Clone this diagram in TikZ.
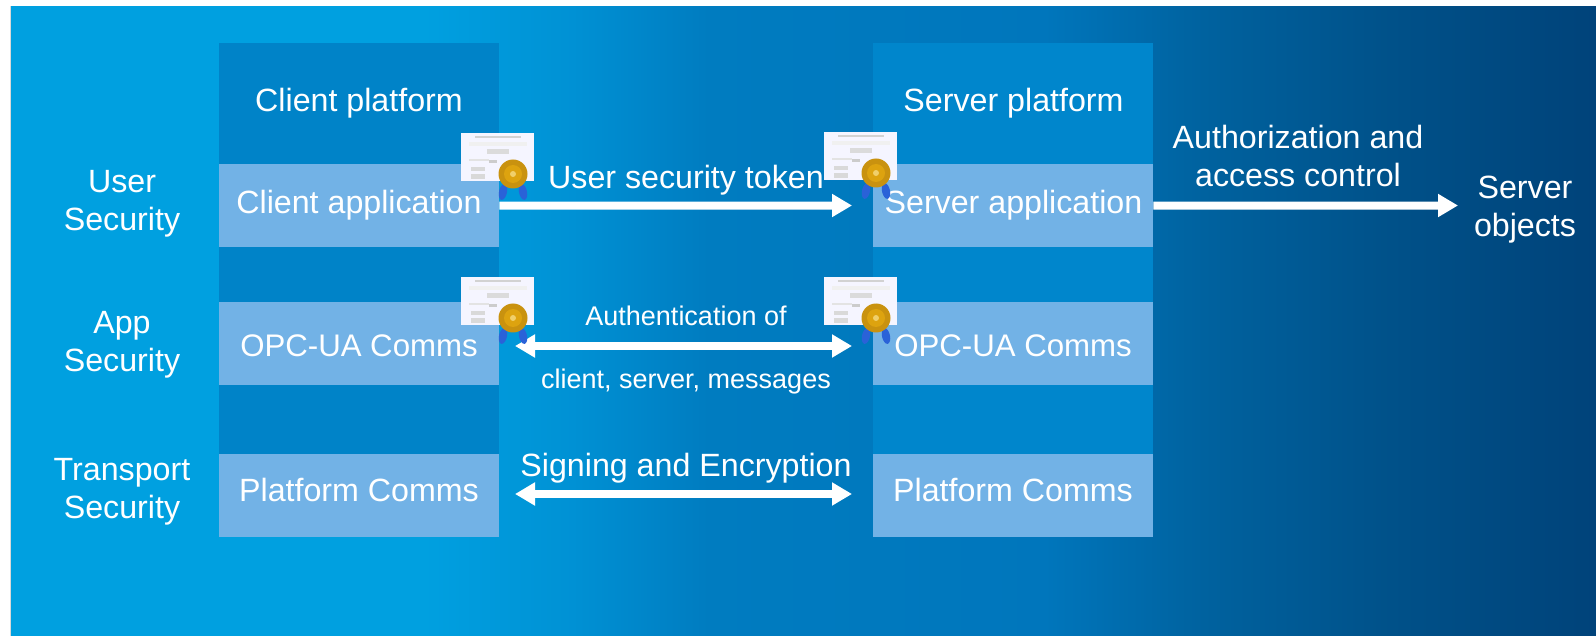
\documentclass[tikz,border=0pt]{standalone}
\usepackage{fontspec}
\setmainfont{Liberation Sans}
\usetikzlibrary{arrows.meta}
\definecolor{bgA}{HTML}{00A0E0}
\definecolor{bgB}{HTML}{0092D5}
\definecolor{bgC}{HTML}{007CC0}
\definecolor{bgD}{HTML}{0076BC}
\definecolor{bgE}{HTML}{00629F}
\definecolor{bgF}{HTML}{005088}
\definecolor{bgG}{HTML}{00437A}
\definecolor{panelL}{HTML}{0083C8}
\definecolor{panelR}{HTML}{0086CC}
\definecolor{boxC}{HTML}{72B2E6}
\definecolor{sealC}{HTML}{C9920F}
\definecolor{sealD}{HTML}{DDA30F}
\definecolor{sealE}{HTML}{F0CF6A}
\definecolor{ribbonC}{HTML}{2A62D8}
\pgfdeclarehorizontalshading{bgshade}{100bp}{color(0bp)=(bgA); color(25bp)=(bgA); color(38bp)=(bgA); color(42.5bp)=(bgB); color(47bp)=(bgC); color(57.6bp)=(bgD); color(62.6bp)=(bgE); color(68.9bp)=(bgF); color(75bp)=(bgG); color(100bp)=(bgG)}
\tikzset{
  appbox/.style={fill=boxC,draw=none,minimum width=280pt,minimum height=83pt,inner sep=0pt},
  boxtext/.style={text=white,inner sep=0pt,font=\fontsize{32.2}{38}\selectfont},
  opctext/.style={text=white,inner sep=0pt,font=\fontsize{31.2}{38}\selectfont},
  lbl/.style={text=white,align=center,inner sep=0pt,font=\fontsize{32.2}{38}\selectfont},
  smalllbl/.style={text=white,align=center,inner sep=0pt,font=\fontsize{27}{32}\selectfont},
  arrowline/.style={draw=white,line width=8pt},
  tipend/.style={-{Triangle[width=22pt,length=20pt]}},
  tipboth/.style={{Triangle[width=22pt,length=20pt]}-{Triangle[width=22pt,length=20pt]}},
}
\newcommand{\certificate}[2]{%
  \begin{scope}[shift={(#1,#2)}]
    \fill[white!96!blue] (0,0) rectangle (73,48);
    \fill[gray!35] (14,3) rectangle (60,5);
    \fill[gray!12] (8,9) rectangle (66,13);
    \fill[gray!28] (26,16) rectangle (48,21);
    \fill[gray!22] (8,26) rectangle (28,28);
    \fill[gray!40] (28,27) rectangle (36,30);
    \fill[gray!30] (10,34) rectangle (24,38);
    \fill[gray!30] (10,41) rectangle (24,46);
    \fill[ribbonC,rotate around={-12:(42,59)}] (42,59) ellipse (4 and 8);
    \fill[ribbonC,rotate around={12:(62,59)}] (62,59) ellipse (4 and 8);
    \fill[sealC] (52,41) circle (14.5);
    \fill[sealD] (52,41) circle (9);
    \fill[sealE] (52,41) circle (3);
  \end{scope}}
\begin{document}
\begin{tikzpicture}[x=1pt,y=-1pt]
\useasboundingbox (0,0) rectangle (1596,636);
\fill[white] (0,0) rectangle (1596,636);
\fill[gray!30] (10,6) rectangle (1596,636);
\fill[shading=bgshade,shading angle=0] (11,7) rectangle (1596,636);
\fill[panelL] (219,43) rectangle (499,537);
\fill[panelR] (873,43) rectangle (1153,537);
\node[appbox,anchor=north west] (clientapp) at (219,164) {};
\node[appbox,anchor=north west] (serverapp) at (873,164) {};
\node[appbox,anchor=north west] (clientopc) at (219,302) {};
\node[appbox,anchor=north west] (serveropc) at (873,302) {};
\node[appbox,anchor=north west] (clientplat) at (219,454) {};
\node[appbox,anchor=north west] (serverplat) at (873,454) {};
\node[boxtext] (clientapptext) at (359,205.5) {Client application};
\node[boxtext] (serverapptext) at (1013.5,205.5) {Server application};
\node[opctext] (clientopctext) at (359,345.5) {OPC-UA Comms};
\node[opctext] (serveropctext) at (1013,345.5) {OPC-UA Comms};
\node[boxtext] (clientplattext) at (359,489.5) {Platform Comms};
\node[boxtext] (serverplattext) at (1013,489.5) {Platform Comms};
\node[lbl] (clienttitle) at (359,103) {Client platform};
\node[lbl] (servertitle) at (1013.5,103) {Server platform};
\node[lbl] (usersec) at (122,203.5) {User\\Security};
\node[lbl] (appsec) at (122,344.5) {App\\Security};
\node[lbl] (transsec) at (122,492) {Transport\\Security};
\node[lbl] (objects) at (1525,209.5) {Server\\objects};
\coordinate (objin) at (1458,205.5);
\coordinate (tokenend) at (852,205.5);
\coordinate (authL) at (515,346);
\coordinate (authR) at (852,346);
\coordinate (signL) at (515,494);
\coordinate (signR) at (852,494);
\node[lbl] (usertoken) at (686,180) {User security token};
\node[lbl] (authz) at (1298,155.5) {Authorization and\\access control};
\node[smalllbl] (auth1) at (686,316) {Authentication of};
\node[smalllbl] (auth2) at (686,382) {client, server, messages};
\node[lbl] (signing) at (686,468) {Signing and Encryption};
\draw[arrowline,tipend] (clientapp.east) -- (tokenend);
\draw[arrowline,tipend] (serverapp.east) -- (objin);
\draw[arrowline,tipboth] (authL) -- (authR);
\draw[arrowline,tipboth] (signL) -- (signR);
\certificate{461}{133}
\certificate{824}{132}
\certificate{461}{277}
\certificate{824}{277}
\end{tikzpicture}
\end{document}
